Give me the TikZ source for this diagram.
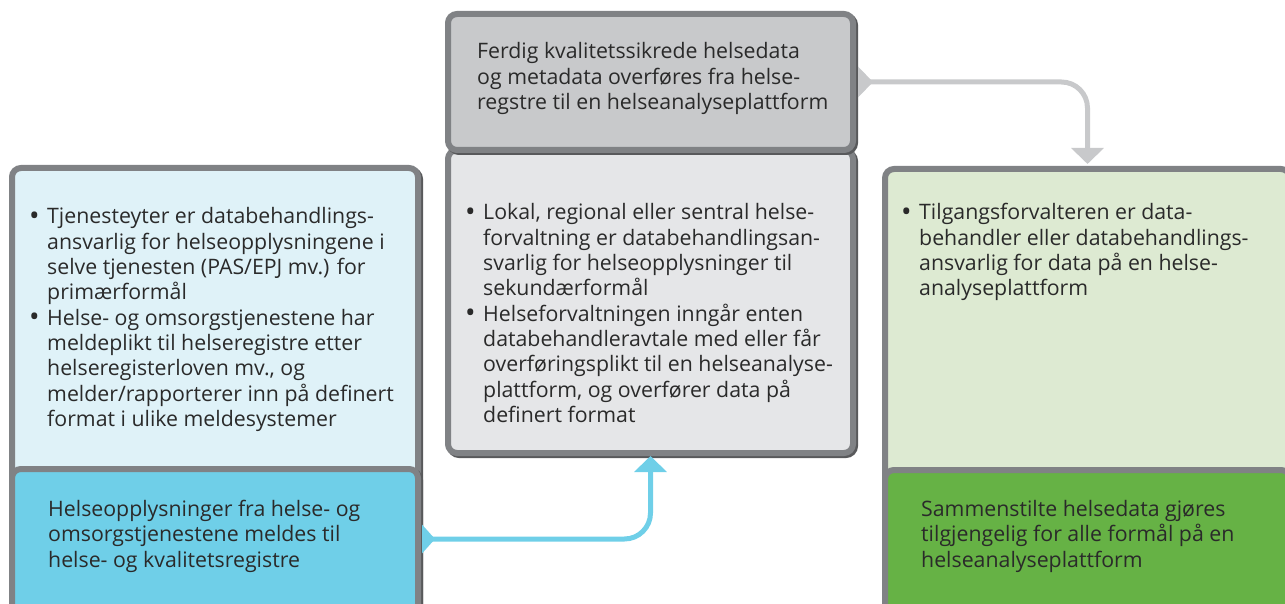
\documentclass[tikz,border=0pt]{standalone}
\usepackage{fontspec}
\setmainfont{Open Sans}
\usetikzlibrary{arrows.meta}
\definecolor{bl}{HTML}{808285}
\definecolor{bd}{HTML}{58595B}
\definecolor{lblue}{HTML}{DFF2F8}
\definecolor{sblue}{HTML}{6FCFE8}
\definecolor{dgray}{HTML}{C8C9CB}
\definecolor{lgray}{HTML}{E5E6E8}
\definecolor{lgreen}{HTML}{DDEAD2}
\definecolor{sgreen}{HTML}{66B245}
\definecolor{txt}{HTML}{2A2A2A}
\definecolor{garrow}{HTML}{C8C9CB}
\newcommand\bul{\makebox[18pt][l]{\raisebox{-1.8pt}{\fontsize{28}{25}\selectfont •}}}
\newcommand\txtblock[1]{\vtop{\hsize=460pt\parindent=0pt\fontsize{21.3}{25.3}\selectfont #1\par}}
\tikzset{
  panel/.style={rectangle, rounded corners=9pt, draw=bl, line width=6pt, inner sep=0pt, outer sep=0pt, anchor=north west,
    preaction={draw=bd, transform canvas={shift={(2pt,-2pt)}}}},
  txtnode/.style={anchor=base west, inner sep=0pt, text=txt},
  con/.style={line width=5pt, rounded corners=26pt},
}
\begin{document}
\begin{tikzpicture}[x=1pt,y=-1pt]
\useasboundingbox (0,0) rectangle (1285,604);
\clip (0,0) rectangle (1285,604);
% left panels
\node[panel, fill=lblue, minimum width=406pt, minimum height=445pt] (lu) at (12,168) {};
\node[panel, fill=sblue, minimum width=406pt, minimum height=150pt] (lb) at (12,469) {};
% middle panels
\node[panel, fill=lgray, minimum width=405pt, minimum height=303pt] (mb) at (448,150) {};
\node[panel, fill=dgray, minimum width=405pt, minimum height=136pt] (mt) at (448,14) {};
% right panels
\node[panel, fill=lgreen, minimum width=405pt, minimum height=445pt] (ru) at (885,169) {};
\node[panel, fill=sgreen, minimum width=405pt, minimum height=150pt] (rb) at (885,470) {};

% texts
\node[txtnode] (t1) at (29,224) {\txtblock{\hangindent=18pt\hangafter=1
\bul Tjenesteyter er databehandlings-\\ansvarlig for helseopplysningene i\\selve tjenesten (PAS/EPJ mv.) for\\primærformål\par
\hangindent=18pt\hangafter=1
\bul Helse- og omsorgstjenestene har\\meldeplikt til helseregistre etter\\helseregisterloven mv., og\\melder/rapporterer inn på definert\\format i ulike meldesystemer}};
\node[txtnode] (t2) at (48,516.5) {\txtblock{Helseopplysninger fra helse- og\\omsorgstjenestene meldes til\\helse- og kvalitetsregistre}};
\node[txtnode] (t3) at (477,59) {\txtblock{Ferdig kvalitetssikrede helsedata\\og metadata overføres fra helse-\\regstre til en helseanalyseplattform}};
\node[txtnode] (t4) at (465,220) {\txtblock{\hangindent=18pt\hangafter=1
\bul Lokal, regional eller sentral helse-\\forvaltning er databehandlingsan-\\svarlig for helseopplysninger til\\sekundærformål\par
\hangindent=18pt\hangafter=1
\bul Helseforvaltningen inngår enten\\databehandleravtale med eller får\\overføringsplikt til en helseanalyse-\\plattform, og overfører data på\\definert format}};
\node[txtnode] (t5) at (901,220) {\txtblock{\hangindent=18pt\hangafter=1
\bul Tilgangsforvalteren er data-\\behandler eller databehandlings-\\ansvarlig for data på en helse-\\analyseplattform}};
\node[txtnode] (t6) at (921,516.5) {\txtblock{Sammenstilte helsedata gjøres\\tilgjengelig for alle formål på en\\helseanalyseplattform}};

% blue connector
\fill[sblue] ([xshift=4pt,yshift=19.5pt]lb.east) -- ([xshift=17pt,yshift=5pt]lb.east) -- ([xshift=4pt,yshift=-9.5pt]lb.east) -- cycle;
\draw[con, draw=sblue, -{Triangle[width=32pt,length=16pt]}] ([xshift=10pt,yshift=5pt]lb.east) -| ([yshift=-3pt]mb.south);
% gray connector
\fill[garrow] ([xshift=5pt,yshift=15.5pt]mt.east) -- ([xshift=20pt]mt.east) -- ([xshift=5pt,yshift=-15.5pt]mt.east) -- cycle;
\draw[con, draw=garrow, -{Triangle[width=32pt,length=16pt]}] ([xshift=10pt]mt.east) -| ([yshift=5pt]ru.north);
\end{tikzpicture}
\end{document}
